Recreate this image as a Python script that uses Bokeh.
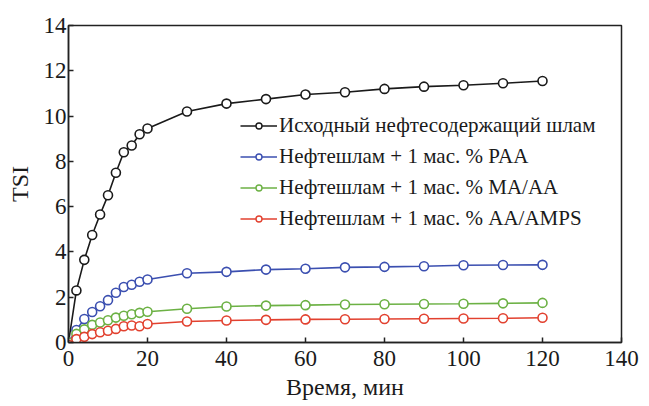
from bokeh.plotting import figure
from bokeh.models import Range1d, Legend, LegendItem, FixedTicker
from bokeh.embed import file_html
from bokeh.resources import INLINE

time = [0, 2, 4, 6, 8, 10, 12, 14, 16, 18, 20, 30, 40, 50, 60, 70, 80, 90, 100, 110, 120]
tsi_orig = [0.0, 2.3, 3.65, 4.75, 5.65, 6.5, 7.5, 8.4, 8.7, 9.2, 9.45, 10.2, 10.55, 10.75, 10.95, 11.05, 11.2, 11.3, 11.36, 11.45, 11.55]
tsi_paa = [0.0, 0.55, 1.04, 1.35, 1.6, 1.87, 2.2, 2.45, 2.55, 2.68, 2.78, 3.06, 3.12, 3.22, 3.26, 3.32, 3.34, 3.37, 3.41, 3.42, 3.43]
tsi_maaa = [0.0, 0.38, 0.58, 0.78, 0.88, 0.98, 1.1, 1.18, 1.25, 1.31, 1.36, 1.49, 1.59, 1.63, 1.65, 1.68, 1.69, 1.7, 1.71, 1.73, 1.75]
tsi_aaamps = [-0.1, 0.15, 0.25, 0.37, 0.45, 0.52, 0.6, 0.72, 0.75, 0.72, 0.82, 0.93, 0.97, 1.0, 1.02, 1.03, 1.04, 1.05, 1.06, 1.07, 1.09]

labels = ["Исходный нефтесодержащий шлам",
          "Нефтешлам + 1 мас. % PAA",
          "Нефтешлам + 1 мас. % MA/AA",
          "Нефтешлам + 1 мас. % AA/AMPS"]
colors = ["#1a1a1a", "#3b4fb0", "#6cb144", "#e2412f"]
x_ticks = [0, 20, 40, 60, 80, 100, 120, 140]
y_ticks = [0, 2, 4, 6, 8, 10, 12, 14]

FONT = "Liberation Serif"

p = figure(width=649, height=406, output_backend="svg", toolbar_location=None,
           x_range=Range1d(0, 140), y_range=Range1d(0, 14),
           min_border_left=68, min_border_right=28, min_border_top=25, min_border_bottom=64)
# an off-screen range used only so the legend proxies draw outside the frame
p.extra_y_ranges = {"legend_proxy": Range1d(100, 114)}
p.grid.visible = False
p.outline_line_color = "#222222"
p.outline_line_width = 1.5
p.background_fill_color = "white"
p.border_fill_color = "white"

for ax in (p.xaxis[0], p.yaxis[0]):
    ax.major_tick_in = 5
    ax.major_tick_out = 0
    ax.minor_tick_in = 0
    ax.minor_tick_out = 0
    ax.axis_line_color = "#222222"
    ax.axis_line_width = 1.5
    ax.major_tick_line_color = "#222222"
    ax.major_tick_line_width = 1.5
    ax.major_label_text_font = FONT
    ax.major_label_text_font_size = "23px"
    ax.major_label_text_color = "#1a1a1a"
    ax.axis_label_text_font = FONT
    ax.axis_label_text_font_size = "24px"
    ax.axis_label_text_font_style = "normal"
    ax.axis_label_text_color = "#1a1a1a"

p.xaxis.ticker = FixedTicker(ticks=x_ticks)
p.yaxis.ticker = FixedTicker(ticks=y_ticks)
p.xaxis.axis_label = "Время, мин"
p.yaxis.axis_label = "TSI"
p.xaxis.major_label_standoff = 8
p.yaxis.major_label_standoff = 2
p.xaxis.axis_label_standoff = 5
p.yaxis.axis_label_standoff = 8

series = [tsi_orig, tsi_paa, tsi_maaa, tsi_aaamps]
items = []
for ys, c, lab in zip(series, colors, labels):
    p.line(time, ys, line_color=c, line_width=1.6)
    p.scatter(time, ys, marker="circle", size=9, fill_color="white",
              line_color=c, line_width=1.6)
    # legend proxies with the smaller legend marker, mapped off-screen
    lg_l = p.line(time, ys, line_color=c, line_width=1.6, y_range_name="legend_proxy")
    lg_s = p.scatter(time, ys, marker="circle", size=6, fill_color="white",
                     line_color=c, line_width=1.4, y_range_name="legend_proxy")
    items.append(LegendItem(label=lab, renderers=[lg_l, lg_s]))

legend = Legend(items=items, location=(172, 108), orientation="vertical",
                label_text_font=FONT, label_text_font_size="21px",
                label_text_color="#1a1a1a",
                glyph_width=37, glyph_height=15, label_height=31,
                spacing=0, padding=0, margin=0, label_standoff=2,
                border_line_alpha=0, background_fill_alpha=0)
p.add_layout(legend, "center")

open("out.html", "w").write(file_html(p, INLINE))
